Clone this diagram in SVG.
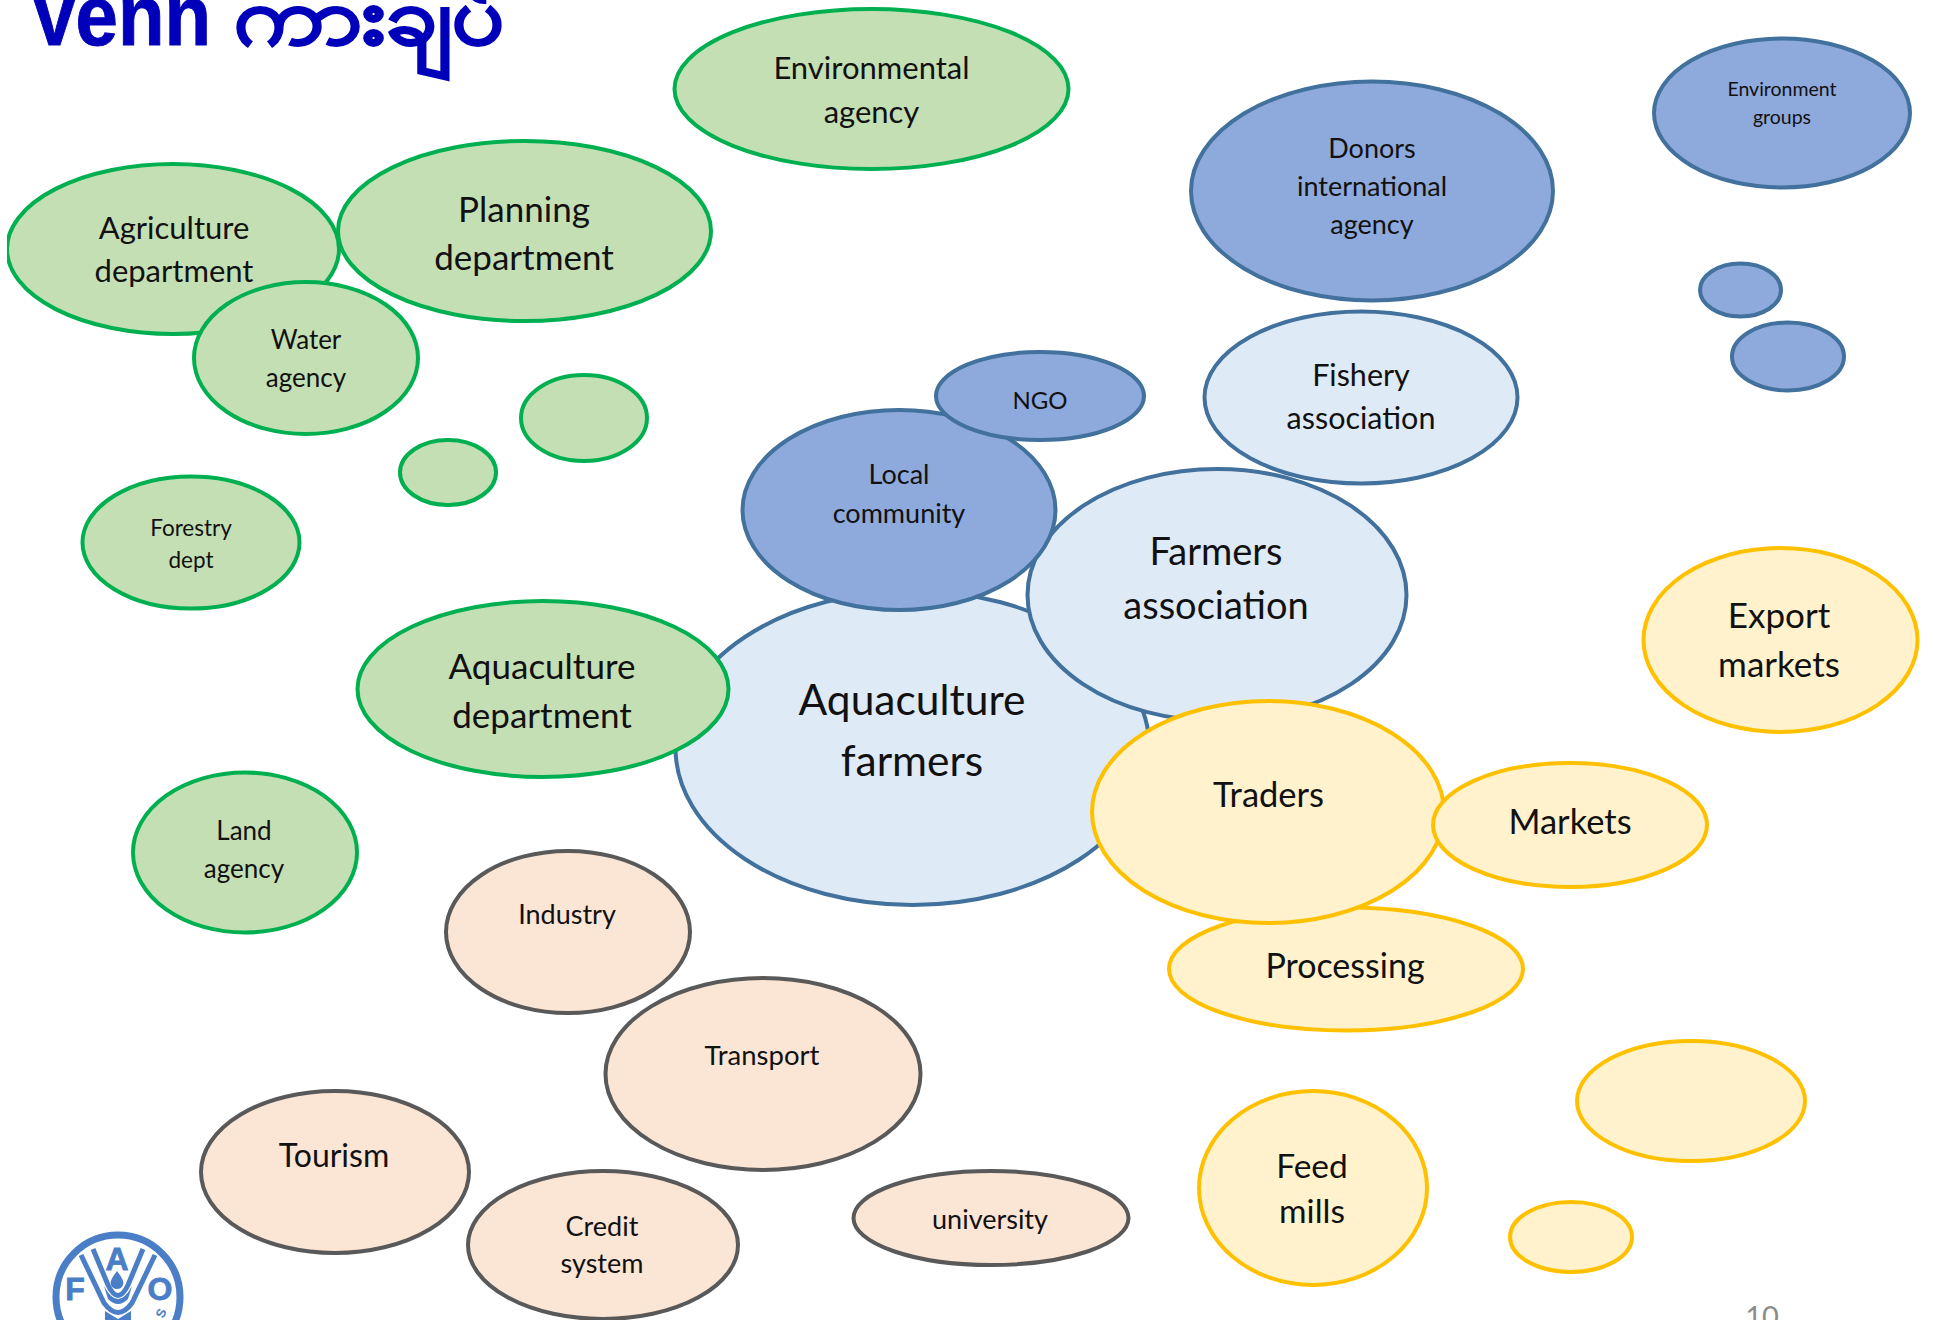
<svg xmlns="http://www.w3.org/2000/svg" width="1933" height="1320" viewBox="0 0 1933 1320">
<style>
text{font-family:"Lato","Open Sans","Noto Sans",sans-serif;fill:#111;text-anchor:middle}
ellipse{stroke-width:4}
.g{fill:#C5DFB4;stroke:#00B050}
.b{fill:#8EA9DB;stroke:#41719C}
.l{fill:#DEEAF6;stroke:#41719C}
.y{fill:#FFF2CC;stroke:#FFC000}
.p{fill:#FBE5D5;stroke:#595959}
.title{text-anchor:start;font-family:"Liberation Sans","Noto Sans","Noto Sans CJK SC",sans-serif;font-weight:700;fill:#0000BB;stroke:#0000BB}
.fao{fill:none;stroke:#4A7EC7}
.faof{fill:#4A7EC7}
.faot{font-family:"Liberation Sans",Arial,sans-serif;font-weight:700;fill:#4A7EC7;stroke:#4A7EC7;stroke-width:.8}
</style>
<defs><clipPath id="leftclip"><rect x="7" y="0" width="1926" height="1320"/></clipPath></defs>
<rect width="1933" height="1320" fill="#fff"/>
<g id="title">
<text class="title" x="29" y="45" font-size="86" stroke-width="1" textLength="182" lengthAdjust="spacingAndGlyphs">Venn</text>
<text class="title" x="234" y="44" font-size="80" stroke-width="1.5" textLength="270" lengthAdjust="spacingAndGlyphs">ကားချပ်</text>
</g>
<g id="connectors"/>
<g id="environmental-agency"><ellipse class="g" cx="871.5" cy="89" rx="197" ry="80"/><text x="871.5" y="79" font-size="31">Environmental</text><text x="871.5" y="123" font-size="31">agency</text></g>
<g id="agriculture-department"><ellipse class="g" cx="173" cy="249" rx="166" ry="85" clip-path="url(#leftclip)"/><text x="174" y="239" font-size="31">Agriculture</text><text x="174" y="282" font-size="31">department</text></g>
<g id="planning-department"><ellipse class="g" cx="524.5" cy="231" rx="186.5" ry="90"/><text x="524" y="222" font-size="35">Planning</text><text x="524" y="270" font-size="35">department</text></g>
<g id="water-agency"><ellipse class="g" cx="306" cy="358" rx="112" ry="76"/><text x="306" y="349" font-size="26">Water</text><text x="306" y="387" font-size="26">agency</text></g>
<g id="green-small-1"><ellipse class="g" cx="584" cy="418" rx="63" ry="43"/></g>
<g id="green-small-2"><ellipse class="g" cx="448" cy="472.5" rx="48" ry="32.5"/></g>
<g id="forestry-dept"><ellipse class="g" cx="191" cy="542.5" rx="108.5" ry="66"/><text x="191" y="536" font-size="22.5">Forestry</text><text x="191" y="568" font-size="22.5">dept</text></g>
<g id="aquaculture-farmers"><ellipse class="l" cx="912.5" cy="748" rx="237" ry="157"/><text x="912" y="715" font-size="42.5">Aquaculture</text><text x="912" y="776" font-size="42.5">farmers</text></g>
<g id="aquaculture-department"><ellipse class="g" cx="543" cy="689" rx="185.5" ry="88"/><text x="542" y="679" font-size="35">Aquaculture</text><text x="542" y="728" font-size="35">department</text></g>
<g id="land-agency"><ellipse class="g" cx="245" cy="852.5" rx="112" ry="80"/><text x="244" y="840" font-size="26">Land</text><text x="244" y="878" font-size="26">agency</text></g>
<g id="industry"><ellipse class="p" cx="568" cy="932" rx="122" ry="81"/><text x="567" y="924" font-size="27">Industry</text></g>
<g id="transport"><ellipse class="p" cx="763" cy="1074" rx="157.5" ry="96"/><text x="762" y="1065" font-size="27.5">Transport</text></g>
<g id="tourism"><ellipse class="p" cx="335" cy="1172" rx="134" ry="81"/><text x="334" y="1167" font-size="32">Tourism</text></g>
<g id="credit-system"><ellipse class="p" cx="603" cy="1245" rx="135" ry="74"/><text x="602" y="1236" font-size="27">Credit</text><text x="602" y="1273" font-size="27">system</text></g>
<g id="university"><ellipse class="p" cx="991" cy="1218" rx="137.5" ry="47"/><text x="990" y="1229" font-size="27">university</text></g>
<g id="feed-mills"><ellipse class="y" cx="1313" cy="1188" rx="114" ry="97"/><text x="1312" y="1178" font-size="33.5">Feed</text><text x="1312" y="1223" font-size="33.5">mills</text></g>
<g id="yellow-small"><ellipse class="y" cx="1571" cy="1237" rx="61" ry="35"/></g>
<g id="yellow-mid"><ellipse class="y" cx="1691" cy="1101" rx="114" ry="60"/></g>
<g id="processing"><ellipse class="y" cx="1346" cy="969" rx="177" ry="61.5"/><text x="1345" y="978" font-size="34">Processing</text></g>
<g id="farmers-association"><ellipse class="l" cx="1217" cy="595" rx="189.5" ry="126"/><text x="1216" y="565" font-size="38">Farmers</text><text x="1216" y="619" font-size="38">association</text></g>
<g id="local-community"><ellipse class="b" cx="899" cy="510" rx="156.5" ry="100"/><text x="899" y="484" font-size="27">Local</text><text x="899" y="523" font-size="27">community</text></g>
<g id="ngo"><ellipse class="b" cx="1040" cy="396" rx="104" ry="44"/><text x="1040" y="409" font-size="24">NGO</text></g>
<g id="fishery-association"><ellipse class="l" cx="1361" cy="397.5" rx="156.5" ry="86"/><text x="1361" y="386" font-size="30.5">Fishery</text><text x="1361" y="429" font-size="30.5">association</text></g>
<g id="traders"><ellipse class="y" cx="1268" cy="812" rx="176" ry="111"/><text x="1268.5" y="807" font-size="34.5">Traders</text></g>
<g id="markets"><ellipse class="y" cx="1570" cy="825" rx="137" ry="62"/><text x="1570" y="834" font-size="34.5">Markets</text></g>
<g id="export-markets"><ellipse class="y" cx="1780.5" cy="640" rx="137" ry="92"/><text x="1779" y="628" font-size="35">Export</text><text x="1779" y="677" font-size="35">markets</text></g>
<g id="donors"><ellipse class="b" cx="1372" cy="191" rx="181" ry="109.5"/><text x="1372" y="158" font-size="27">Donors</text><text x="1372" y="196" font-size="27">international</text><text x="1372" y="234" font-size="27">agency</text></g>
<g id="environment-groups"><ellipse class="b" cx="1782" cy="113" rx="128" ry="74.5"/><text x="1782" y="96" font-size="19.5">Environment</text><text x="1782" y="124" font-size="19.5">groups</text></g>
<g id="blue-small-1"><ellipse class="b" cx="1740.5" cy="290" rx="40.5" ry="26.5"/></g>
<g id="blue-small-2"><ellipse class="b" cx="1788" cy="356.5" rx="56" ry="34"/></g>
<g id="fao-logo">
<circle class="fao" cx="118" cy="1297" r="62" stroke-width="7"/>
<path class="fao" stroke-width="5" d="M81 1255L104 1303Q118 1322 132 1303L155 1255"/>
<path class="fao" stroke-width="5" d="M93 1249L108 1285Q118 1306 128 1285L143 1249"/>
<path class="faof" d="M104 1286Q118 1312 132 1286L128 1299Q118 1309 108 1299Z"/>
<path class="faof" d="M105 1311L118 1319L131 1311V1320H105Z"/>
<path class="faof" d="M117 1271Q125 1281 123 1285A6.5 6.5 0 0 1 111 1285Q109 1281 117 1271Z"/>
<text class="faot" x="75" y="1300" font-size="32">F</text>
<text class="faot" x="117" y="1270" font-size="32">A</text>
<text class="faot" x="160" y="1300" font-size="32">O</text>
<text class="faot" font-size="13" style="stroke-width:0" transform="translate(165 1315) rotate(-65)">S</text>
</g>
<text id="page-number" x="1762" y="1327" font-size="29" style="fill:#8C8C8C">10</text>
</svg>
